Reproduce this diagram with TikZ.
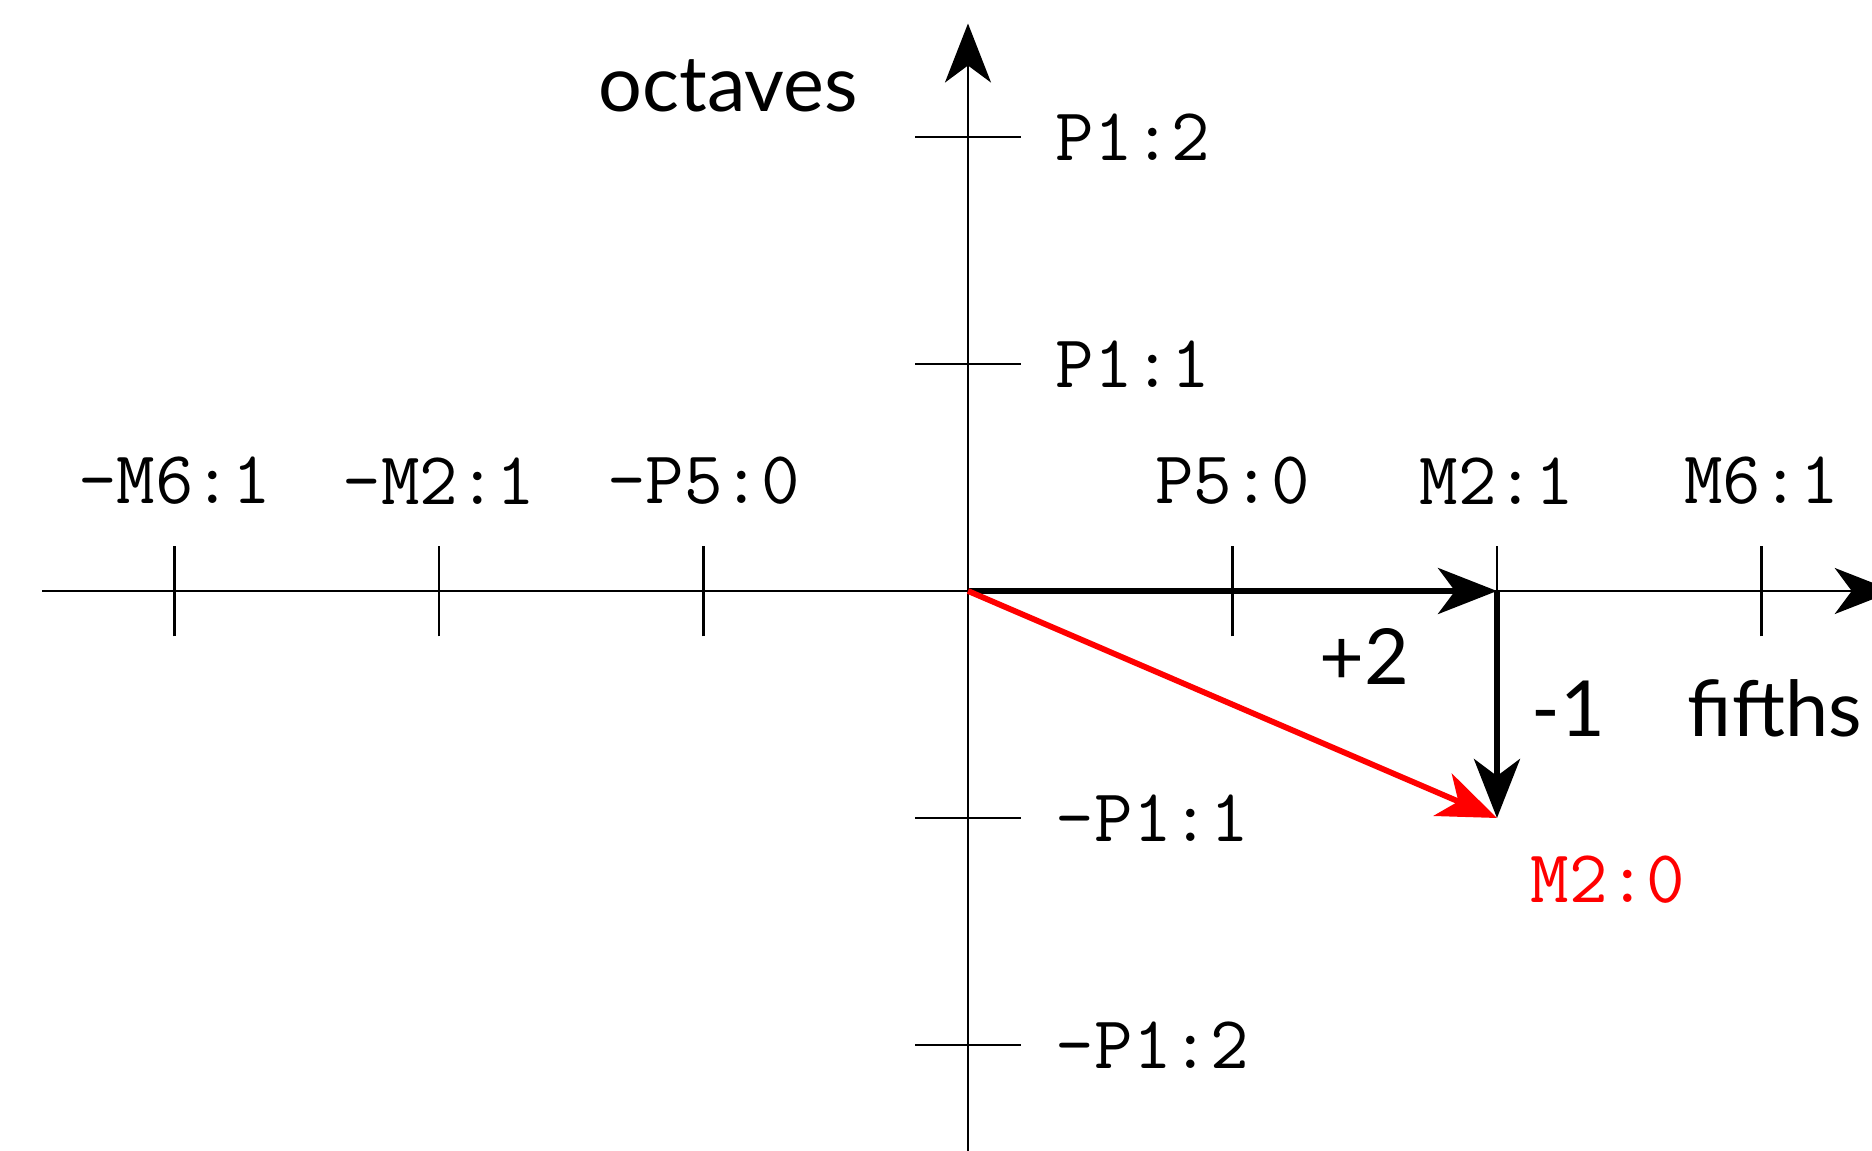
\documentclass[tikz,border=0pt]{standalone}
\usepackage{fontspec}
\usepackage{tikz}
\usetikzlibrary{arrows.meta,positioning}
\newfontfamily\wordfont{Lato}
\definecolor{axisInk}{RGB}{0,0,0}
\definecolor{pathRed}{RGB}{255,0,0}
\tikzset{
  axis/.style={-{Stealth[length=5.9mm, width=4.6mm, inset=1.7mm]}, line width=0.65pt, draw=axisInk},
  tickmark/.style={line width=0.65pt, draw=axisInk},
  flow/.style={-{Stealth[length=5.9mm, width=4.6mm, inset=1.7mm]}, line width=1.65pt, draw=axisInk},
  redflow/.style={flow, draw=pathRed},
  lbl/.style={inner sep=0pt, font=\fontsize{21.3}{25}\selectfont\ttfamily},
  word/.style={inner sep=0pt, font=\fontsize{22}{26}\selectfont\wordfont}
}
\begin{document}
\begin{tikzpicture}[x=2.645cm, y=2.27cm]
  \useasboundingbox (-9.68cm,-5.60cm) rectangle (9.04cm,5.91cm);
  \coordinate (O) at (0,0);
  \coordinate (xl) at (-3.5,0);
  \coordinate (xr) at (3.5,0);
  \coordinate (yb) at (0,-2.6);
  \coordinate (yt) at (0,2.5);
  \coordinate (M21) at (2,0);
  \coordinate (M20) at (2,-1);
  % axes
  \draw[axis] (xl) -- (xr);
  \draw[axis] (yb) -- (yt);
  \foreach \i in {-3,-2,-1,1,2,3}
    \draw[tickmark] (\i,-0.2) -- (\i,0.2);
  \foreach \j in {-2,-1,1,2}
    \draw[tickmark] (-0.2,\j) -- (0.2,\j);
  % fifths labels
  \node[lbl] (m6n) at (-3,0.485) {-M6:1};
  \node[lbl] (m2n) at (-2,0.485) {-M2:1};
  \node[lbl] (p5n) at (-1,0.485) {-P5:0};
  \node[lbl] (p5) at (1,0.485) {P5:0};
  \node[lbl] (m2) at (2,0.485) {M2:1};
  \node[lbl] (m6) at (3,0.485) {M6:1};
  % octave labels
  \node[lbl, anchor=west] (p12) at (0.33,2) {P1:2};
  \node[lbl, anchor=west] (p11) at (0.33,1) {P1:1};
  \node[lbl, anchor=west] (p11n) at (0.33,-1) {-P1:1};
  \node[lbl, anchor=west] (p12n) at (0.33,-2) {-P1:2};
  \node[word] (oct) at (-0.907,2.225) {octaves};
  \node[word] (fif) at (3.05,-0.515) {fifths};
  % steps
  \draw[flow] (O) -- (M21);
  \draw[flow] (M21) -- (M20);
  \draw[redflow] (O) -- (M20);
  \node[word] (plus) at (1.50,-0.29) {+2};
  \node[word] (minus) at (2.27,-0.52) {-1};
  \node[lbl, text=pathRed] (res) at (2.42,-1.27) {M2:0};
\end{tikzpicture}
\end{document}
